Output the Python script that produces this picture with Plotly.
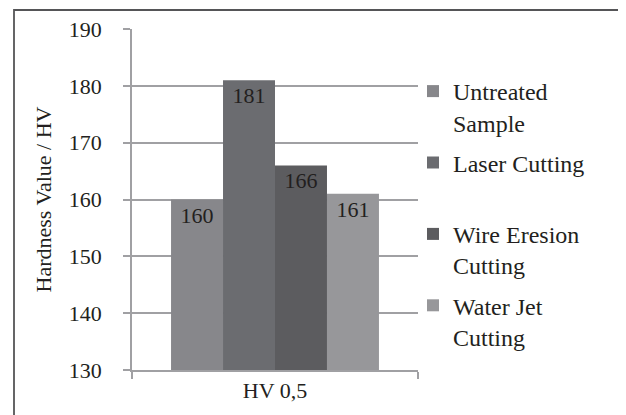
import plotly.graph_objects as go

category = ["HV 0,5"]
series_names = ["Untreated<br>Sample", "Laser Cutting<br> ", "Wire Eresion<br>Cutting", "Water Jet<br>Cutting"]
series_values = [160, 181, 166, 161]
series_colors = ["#87878b", "#6b6c70", "#5c5c5f", "#97979a"]
y_ticks = [130, 140, 150, 160, 170, 180, 190]

# page body has an 8px margin: the figure starts at (8, 8) in the window
OFF = 8
W, H = 626 - OFF, 415 - OFF
L, T = 132 - OFF, 29 - OFF
R = 626 - 418
B = 415 - 370
pw, ph = W - L - R, H - T - B

def px_x(p):
    return (p - OFF - L) / pw

def px_y(p):
    return (H - B - (p - OFF)) / ph

fig = go.Figure()
for i, (name, val, col) in enumerate(zip(series_names, series_values, series_colors)):
    fig.add_trace(go.Bar(
        x=category, y=[val], name=name, marker=dict(color=col, line=dict(width=0)),
        text=[str(val)], textposition="inside", insidetextanchor="end",
        textfont=dict(family="Liberation Serif", size=22, color="#231f20"),
        legendgroup=f"g{i}", textangle=0,
    ))

fig.update_layout(
    width=W, height=H,
    margin=dict(l=L, r=R, t=T, b=B, autoexpand=False),
    paper_bgcolor="white", plot_bgcolor="white",
    barmode="group", bargap=0.273, bargroupgap=0,
    font=dict(family="Liberation Serif", size=22, color="#231f20"),
    showlegend=True,
    legend=dict(x=px_x(413), xanchor="left", y=px_y(69), yanchor="top",
                font=dict(family="Liberation Serif", size=24, color="#231f20"),
                valign="top", tracegroupgap=6, bgcolor="rgba(0,0,0,0)",
                itemclick=False),
    xaxis=dict(showline=True, linecolor="#a0a0a3", linewidth=1.5,
               ticks="outside", ticklen=7, tickcolor="#a0a0a3", tickwidth=1.5,
               tickson="boundaries", showgrid=False,
               tickfont=dict(family="Liberation Serif", size=22, color="#231f20")),
    yaxis=dict(range=[130, 190], tickvals=y_ticks, showline=True,
               linecolor="#a0a0a3", linewidth=1.5, ticks="outside", ticklen=7,
               tickcolor="#a0a0a3", tickwidth=1.5, showgrid=True,
               gridcolor="#a0a0a3", gridwidth=1.5, zeroline=False,
               ticklabelstandoff=17,
               tickfont=dict(family="Liberation Serif", size=22, color="#231f20")),
    shapes=[dict(type="rect", xref="paper", yref="paper",
                 x0=px_x(14), x1=px_x(640), y0=px_y(430), y1=px_y(10),
                 line=dict(color="#555557", width=1.8), fillcolor="rgba(0,0,0,0)",
                 layer="below")],
)
fig.update_yaxes(title=dict(text="Hardness Value / HV", standoff=11,
                            font=dict(family="Liberation Serif", size=22, color="#231f20")))

fig.write_html("out.html")
